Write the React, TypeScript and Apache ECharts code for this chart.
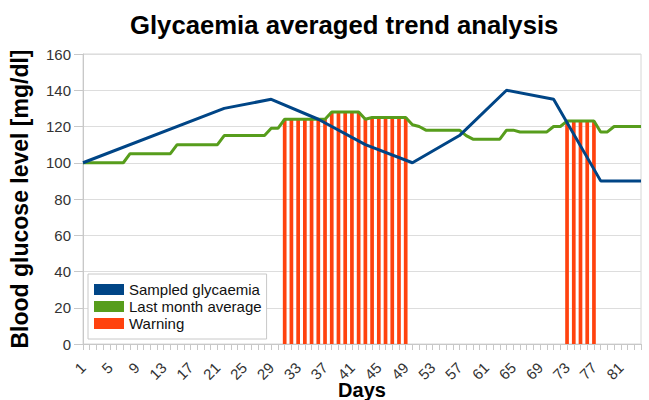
import React, { useEffect, useRef } from "react";
import * as echarts from "echarts";

const DAY_COUNT = 84;
const days: string[] = Array.from({ length: DAY_COUNT }, (_, i) => String(i + 1));

// Sampled glycaemia: weekly samples (day, mg/dl)
const sampledDays = ["1", "22", "29", "36", "43", "50", "57", "64", "71", "78", "84"];
const sampledValues = [100, 130, 135, 124, 110, 100, 115, 140, 135, 90, 90];

// Last month average, one value per day (days 1..84)
const averageValues = [
  100, 100, 100, 100, 100, 100, 100,
  105, 105, 105, 105, 105, 105, 105,
  110, 110, 110, 110, 110, 110, 110,
  115, 115, 115, 115, 115, 115, 115,
  119, 119,
  124, 124, 124, 124, 124, 124, 124,
  128, 128, 128, 128, 128,
  124,
  125, 125, 125, 125, 125, 125,
  121,
  120,
  118, 118, 118, 118, 118, 118,
  115,
  113, 113, 113, 113, 113,
  118, 118,
  117, 117, 117, 117, 117,
  120, 120,
  123, 123, 123, 123, 123,
  117, 117,
  120, 120, 120, 120, 120,
];

// Warning periods (first day, last day)
const warningRanges: [number, number][] = [
  [31, 49],
  [73, 77],
];

const yTicks = { min: 0, max: 160, interval: 20 };

const FONT = "'Liberation Sans', Arial, sans-serif";

export default function App() {
  const ref = useRef<HTMLDivElement>(null);

  useEffect(() => {
    if (!ref.current) return;
    const chart = echarts.init(ref.current, null, { renderer: "svg" });

    const warningValues = averageValues.map((v, i) => {
      const d = i + 1;
      return warningRanges.some(([a, b]) => d >= a && d <= b) ? v : "-";
    });

    const option: any = {
      animation: false,
      textStyle: { fontFamily: FONT },
      title: {
        text: "Glycaemia averaged trend analysis",
        left: 125,
        top: 7,
        textStyle: { fontFamily: FONT, fontSize: 25.7, fontWeight: "bold", color: "#000" },
      },
      legend: {
        orient: "vertical",
        left: 88,
        top: 274,
        icon: "rect",
        itemWidth: 30,
        itemHeight: 11,
        itemGap: 2,
        padding: [8, 5, 8, 6],
        borderColor: "#c8c8c8",
        borderWidth: 1,
        backgroundColor: "#fff",
        textStyle: { fontFamily: FONT, fontSize: 15, color: "#111", lineHeight: 15 },
        data: ["Sampled glycaemia", "Last month average", "Warning"],
      },
      grid: {
        left: 83,
        right: 8,
        top: 54,
        bottom: 56,
        containLabel: false,
        outerBoundsMode: "none",
        show: true,
        borderColor: "#d6d6d6",
        borderWidth: 1,
      },
      xAxis: {
        type: "category",
        data: days,
        boundaryGap: false,
        name: "Days",
        nameLocation: "middle",
        nameGap: 36,
        nameMoveOverlap: false,
        nameTextStyle: { fontFamily: FONT, fontSize: 20, fontWeight: "bold", color: "#000" },
        axisLine: { lineStyle: { color: "#c8c8c8" } },
        axisTick: { show: true, interval: 0, length: 6, lineStyle: { color: "#c8c8c8" } },
        axisLabel: {
          interval: 3,
          rotate: 45,
          margin: 21,
          fontFamily: FONT,
          fontSize: 15,
          color: "#333",
        },
        splitLine: { show: false },
      },
      yAxis: {
        type: "value",
        min: yTicks.min,
        max: yTicks.max,
        interval: yTicks.interval,
        name: "Blood glucose level [mg/dl]",
        nameLocation: "middle",
        nameGap: 52,
        nameMoveOverlap: false,
        nameTextStyle: { fontFamily: FONT, fontSize: 23, fontWeight: "bold", color: "#000" },
        axisLine: { show: true, lineStyle: { color: "#c8c8c8" } },
        axisTick: { show: true, length: 9, lineStyle: { color: "#c8c8c8" } },
        axisLabel: { margin: 12, fontFamily: FONT, fontSize: 15, color: "#333" },
        splitLine: { show: true, lineStyle: { color: "#dddddd" } },
      },
      series: [
        {
          name: "Warning",
          type: "bar",
          data: warningValues,
          barWidth: "55%",
          itemStyle: { color: "#ff420e" },
          z: 1,
        },
        {
          name: "Last month average",
          type: "line",
          data: averageValues,
          showSymbol: false,
          symbol: "none",
          lineStyle: { color: "#579d1c", width: 3 },
          itemStyle: { color: "#579d1c" },
          z: 3,
        },
        {
          name: "Sampled glycaemia",
          type: "line",
          data: sampledDays.map((d, i) => [d, sampledValues[i]]),
          showSymbol: false,
          symbol: "none",
          lineStyle: { color: "#004586", width: 3 },
          itemStyle: { color: "#004586" },
          z: 4,
        },
      ],
    };

    chart.setOption(option);
    return () => chart.dispose();
  }, []);

  return (
    <div
      ref={ref}
      style={{ position: "fixed", left: 0, top: 0, width: 649, height: 400, background: "#fff" }}
    />
  );
}
